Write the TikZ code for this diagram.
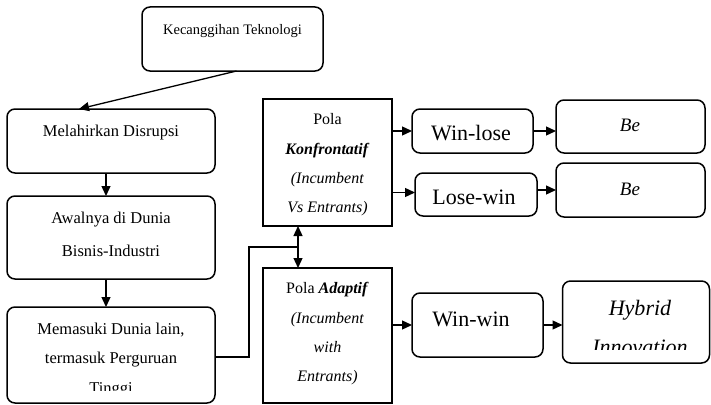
\documentclass[tikz,border=0pt]{standalone}
\usepackage{fontspec}
\setmainfont{Liberation Serif}
\usetikzlibrary{arrows.meta,calc}
\begin{document}
\begin{tikzpicture}[x=1pt,y=-1pt,
  rbox/.style={draw, line width=1.5pt, rounded corners=8pt, inner sep=0pt, outer sep=0pt},
  sbox/.style={draw, line width=1.5pt, inner sep=0pt, outer sep=0pt},
  txt/.style={inner sep=0pt, align=center},
  arr/.style={-{Triangle[length=10pt,width=9pt]}, line width=1.3pt},
  dbl/.style={{Triangle[length=10pt,width=9pt]}-{Triangle[length=10pt,width=9pt]}, line width=1.3pt},
  ln/.style={line width=1.3pt}]
\useasboundingbox (0,0) rectangle (711,404);
\clip (0,0) rectangle (711,404);
% boxes
\node[rbox, minimum width=181pt, minimum height=64pt] (kt) at (232.5,39) {};
\node[rbox, minimum width=208pt, minimum height=64pt] (md) at (111,141) {};
\node[rbox, minimum width=208pt, minimum height=83pt] (aw) at (111,237.5) {};
\node[rbox, minimum width=208pt, minimum height=96pt] (mm) at (111,355) {};
\node[sbox, minimum width=129pt, minimum height=127pt] (kf) at (327.5,162.5) {};
\node[sbox, minimum width=129pt, minimum height=135pt] (ad) at (327.5,335.5) {};
\node[rbox, minimum width=121pt, minimum height=44pt] (wl) at (472.5,131) {};
\node[rbox, minimum width=149pt, minimum height=53pt] (be1) at (630.5,126.5) {};
\node[rbox, minimum width=122pt, minimum height=43pt] (lw) at (476,194.5) {};
\node[rbox, minimum width=149pt, minimum height=54pt] (be2) at (630.5,190) {};
\node[rbox, minimum width=131pt, minimum height=64pt] (ww) at (477.5,325) {};
\node[rbox, minimum width=147pt, minimum height=82pt] (hy) at (636,322) {};
% texts
\node[txt, font=\fontsize{14.5}{17}\selectfont] (ktT) at (232.5,31.5) {Kecanggihan Teknologi};
\node[txt, font=\fontsize{16.5}{20}\selectfont] (mdT) at (111,133) {Melahirkan Disrupsi};
\node[txt, font=\fontsize{16.5}{33}\selectfont] (awT) at (111,234.5) {Awalnya di Dunia\\Bisnis-Industri};
\begin{scope}
\clip (7,300) rectangle (215,390.5);
\node[txt, font=\fontsize{16.5}{29.5}\selectfont] (mmT) at (111,360) {Memasuki Dunia lain,\\termasuk Perguruan\\Tinggi};
\end{scope}
\node[txt, font=\fontsize{16}{29.3}\selectfont] (kfT) at (327.5,165) {Pola\\\textbf{\textit{Konfrontatif}}\\\textit{(Incumbent}\\\textit{Vs Entrants)}};
\node[txt, font=\fontsize{16}{29.3}\selectfont] (adT) at (327.5,334) {Pola \textbf{\textit{Adaptif}}\\\textit{(Incumbent}\\\textit{with}\\\textit{Entrants)}};
\node[txt, font=\fontsize{22}{26}\selectfont] (wlT) at (471,133) {Win-lose};
\node[txt, font=\fontsize{22}{26}\selectfont] (lwT) at (474,197) {Lose-win};
\node[txt, font=\fontsize{22}{26}\selectfont] (wwT) at (471,319) {Win-win};
\node[txt, font=\fontsize{19}{22}\selectfont\itshape] (be1T) at (630,125) {Be};
\node[txt, font=\fontsize{19}{22}\selectfont\itshape] (be2T) at (630,189) {Be};
\begin{scope}
\clip (563,281) rectangle (709,349);
\node[txt, font=\fontsize{22}{39}\selectfont\itshape] (hyT) at (640,327.5) {Hybrid\\Innovation};
\end{scope}
% connectors
\draw[arr] ([xshift=4pt]kt.south) -- ([xshift=-32pt]md.north);
\draw[arr] ([xshift=-5pt]md.south) -- ([xshift=-5pt]aw.north);
\draw[arr] ([xshift=-5pt]aw.south) -- ([xshift=-5pt]mm.north);
\coordinate (jn) at (298,247);
\draw[dbl] (jn |- kf.south) -- (jn |- ad.north);
\draw[ln] ([yshift=-2pt]mm.east) -- ++(34,0) |- (jn);
\draw[arr] (kf.east |- wl.west) -- (wl.west);
\draw[arr] ([yshift=2pt]kf.east |- lw.west) -- ([yshift=2pt]lw.west);
\draw[arr] (wl.east) -- (wl.east -| be1.west);
\draw[arr] (be2.west -| lw.east) -- (be2.west);
\draw[arr] (ad.east |- ww.west) -- (ww.west);
\draw[arr] (ww.east) -- (ww.east -| hy.west);
\end{tikzpicture}
\end{document}
